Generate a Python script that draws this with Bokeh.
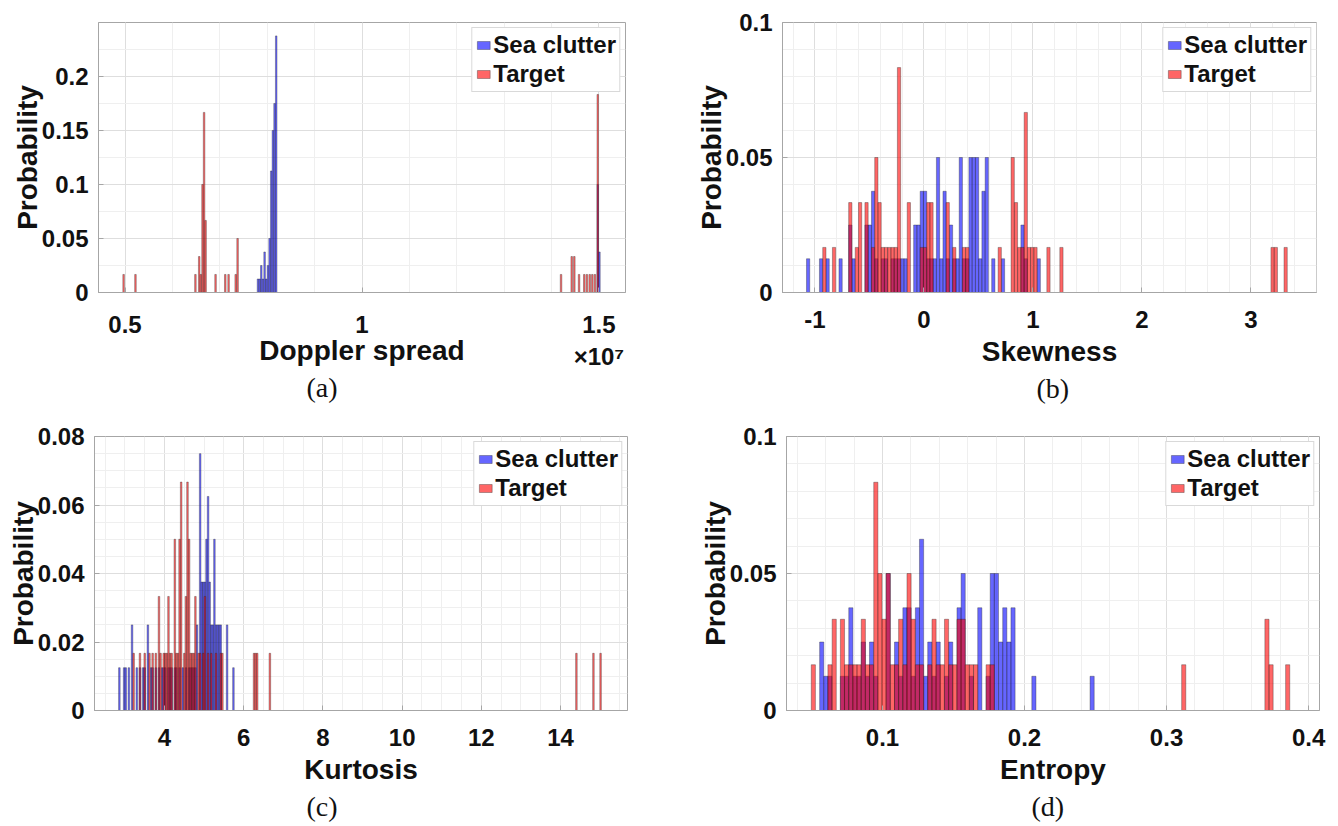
from bokeh.plotting import figure
from bokeh.layouts import column, row
from bokeh.models import Range1d, SingleIntervalTicker, CustomJSTickFormatter, Title
from bokeh.embed import file_html
from bokeh.resources import INLINE

# ---------------- data (probabilities) ----------------
# (a) Doppler spread
dop_sea_x = [0.7805e7, 0.7840e7, 0.7875e7, 0.7910e7, 0.7945e7, 0.7980e7, 0.8015e7,
             0.8050e7, 0.8085e7, 0.8120e7, 0.8155e7, 0.8190e7, 1.4975e7, 1.5010e7]
dop_sea_p = [0.0125, 0.0125, 0.025, 0.0125, 0.0375, 0.0125, 0.025,
             0.05, 0.1125, 0.15, 0.175, 0.2375, 0.1, 0.0375]
dop_tgt_x = [0.4970e7, 0.5220e7, 0.6485e7, 0.6565e7, 0.6600e7, 0.6635e7, 0.6668e7,
             0.6700e7, 0.6910e7, 0.7115e7, 0.7185e7, 0.7335e7, 0.7375e7, 1.4200e7,
             1.4425e7, 1.4480e7, 1.4580e7, 1.4690e7, 1.4745e7, 1.4805e7, 1.4860e7,
             1.4915e7, 1.4975e7]
dop_tgt_p = [0.0167, 0.0167, 0.0167, 0.0333, 0.0167, 0.1, 0.1667,
             0.0667, 0.0167, 0.0167, 0.0167, 0.0167, 0.05, 0.0167,
             0.0333, 0.0333, 0.0167, 0.0167, 0.0167, 0.0167, 0.0167,
             0.0167, 0.1833]
dop_exponent = "\u00d710\u2077"

# (b) Skewness
skew_sea_x = [-1.063, -0.944, -0.884, -0.765, -0.676, -0.646, -0.527, -0.497, -0.467,
              -0.437, -0.378, -0.348, -0.288, -0.258, -0.229, -0.199, -0.169, -0.080,
              -0.050, -0.020, 0.010, 0.040, 0.069, 0.099, 0.129, 0.159, 0.189, 0.218,
              0.248, 0.278, 0.308, 0.338, 0.367, 0.397, 0.427, 0.457, 0.487, 0.516,
              0.546, 0.576, 0.636, 0.725, 0.904, 0.934, 1.053]
skew_sea_p = [0.0125, 0.0125, 0.0125, 0.0125, 0.025, 0.0125, 0.025, 0.025, 0.0375,
              0.0125, 0.0125, 0.0125, 0.0125, 0.0125, 0.0125, 0.0125, 0.0125, 0.025,
              0.025, 0.0375, 0.0375, 0.0125, 0.0125, 0.0125, 0.05, 0.0125, 0.0375, 0.0125,
              0.025, 0.0125, 0.0125, 0.05, 0.0125, 0.0125, 0.05, 0.05, 0.05, 0.0125,
              0.0375, 0.05, 0.0125, 0.0125, 0.025, 0.0125, 0.0125]
skew_tgt_x = [-0.914, -0.825, -0.676, -0.616, -0.586, -0.527, -0.467, -0.437, -0.407,
              -0.378, -0.348, -0.318, -0.288, -0.258, -0.229, -0.139, -0.020, 0.010,
              0.040, 0.069, 0.218, 0.278, 0.367, 0.397, 0.695, 0.814, 0.844, 0.874,
              0.904, 0.934, 0.963, 0.993, 1.023, 1.142, 1.261, 3.198, 3.228, 3.318]
skew_tgt_p = [0.0167, 0.0167, 0.0333, 0.0167, 0.0333, 0.0333, 0.0167, 0.05, 0.0333,
              0.0167, 0.0167, 0.0167, 0.0167, 0.0167, 0.0833, 0.0333, 0.0167, 0.0167,
              0.0333, 0.0333, 0.0333, 0.0167, 0.0167, 0.0167, 0.0167, 0.05, 0.0333, 0.0167,
              0.0167, 0.0667, 0.0167, 0.0167, 0.0167, 0.0167, 0.0167, 0.0167, 0.0167, 0.0167]

# (c) Kurtosis
kurt_sea_x = [2.86, 2.98, 3.02, 3.10, 3.18, 3.30, 3.38, 3.46, 3.50, 3.58,
              3.66, 3.70, 3.78, 3.86, 3.94, 3.98, 4.02, 4.10, 4.14, 4.18,
              4.26, 4.30, 4.38, 4.46, 4.54, 4.62, 4.66, 4.70, 4.74, 4.78,
              4.82, 4.90, 4.94, 4.98, 5.02, 5.06, 5.10, 5.14, 5.18, 5.22,
              5.26, 5.30, 5.34, 5.38, 5.42, 5.58, 5.74]
kurt_sea_p = [0.0125, 0.0125, 0.0125, 0.0125, 0.025, 0.0125, 0.0125, 0.0125, 0.0125, 0.025,
              0.0125, 0.0125, 0.0125, 0.0125, 0.0125, 0.0125, 0.0125, 0.0125, 0.0125, 0.0125,
              0.0125, 0.0125, 0.0125, 0.0125, 0.0125, 0.0125, 0.0125, 0.0125, 0.0125, 0.0125,
              0.025, 0.075, 0.0375, 0.0375, 0.0375, 0.05, 0.0625, 0.0375, 0.025, 0.025,
              0.05, 0.025, 0.025, 0.025, 0.025, 0.025, 0.0125]
kurt_tgt_x = [3.22, 3.38, 3.50, 3.62, 3.70, 3.78, 3.86, 3.90, 3.98, 4.02,
              4.06, 4.10, 4.14, 4.18, 4.26, 4.30, 4.34, 4.38, 4.42, 4.50,
              4.54, 4.58, 4.62, 4.66, 4.70, 4.74, 4.78, 4.86, 4.90, 4.98,
              5.02, 5.10, 5.18, 5.30, 5.42, 5.46, 6.26, 6.30, 6.34, 6.66,
              14.40, 14.83, 15.01]
kurt_tgt_p = [0.0167, 0.0167, 0.0167, 0.0167, 0.0167, 0.0167, 0.0333, 0.0167, 0.0167, 0.0167,
              0.0167, 0.0333, 0.0167, 0.0167, 0.05, 0.0167, 0.0167, 0.05, 0.0667, 0.0167,
              0.0333, 0.0667, 0.05, 0.0167, 0.0167, 0.0167, 0.0333, 0.0167, 0.0167, 0.0167,
              0.0333, 0.0167, 0.0167, 0.0167, 0.0167, 0.0167, 0.0167, 0.0167, 0.0167, 0.0167,
              0.0167, 0.0167, 0.0167]

# (d) Entropy
ent_sea_x = [0.0572, 0.0601, 0.0630, 0.0718, 0.0747, 0.0777, 0.0806, 0.0835, 0.0865,
             0.0894, 0.0923, 0.0953, 0.1040, 0.1099, 0.1128, 0.1158, 0.1187, 0.1216,
             0.1246, 0.1275, 0.1304, 0.1333, 0.1363, 0.1392, 0.1451, 0.1480, 0.1539,
             0.1568, 0.1626, 0.1685, 0.1744, 0.1773, 0.1802, 0.1832, 0.1861, 0.1890,
             0.1919, 0.2066, 0.2476]
ent_sea_p = [0.025, 0.0125, 0.0125, 0.0125, 0.0125, 0.0375, 0.0125, 0.0125, 0.025,
             0.0125, 0.025, 0.0125, 0.05, 0.025, 0.0125, 0.0375, 0.0375, 0.0125,
             0.0375, 0.0625, 0.0125, 0.025, 0.0125, 0.025, 0.0125, 0.025, 0.0375,
             0.05, 0.0125, 0.0375, 0.0125, 0.05, 0.05, 0.025, 0.0375, 0.025,
             0.0375, 0.0125, 0.0125]
ent_tgt_x = [0.0513, 0.0630, 0.0660, 0.0718, 0.0747, 0.0777, 0.0806, 0.0835, 0.0865,
             0.0894, 0.0923, 0.0953, 0.0982, 0.1011, 0.1040, 0.1070, 0.1099, 0.1128,
             0.1158, 0.1187, 0.1216, 0.1246, 0.1275, 0.1333, 0.1363, 0.1392, 0.1421,
             0.1451, 0.1480, 0.1509, 0.1539, 0.1568, 0.1597, 0.1626, 0.1656, 0.1744,
             0.1773, 0.3121, 0.3707, 0.3736, 0.3853]
ent_tgt_p = [0.0167, 0.0167, 0.0333, 0.0333, 0.0167, 0.0167, 0.0167, 0.0167, 0.0333,
             0.0167, 0.0167, 0.0833, 0.05, 0.0333, 0.05, 0.0167, 0.0167, 0.0333,
             0.0167, 0.05, 0.0333, 0.0167, 0.0167, 0.0167, 0.0333, 0.0167, 0.0167,
             0.0333, 0.0167, 0.0167, 0.0333, 0.0333, 0.0167, 0.0167, 0.0167, 0.0167,
             0.0167, 0.0167, 0.0333, 0.0167, 0.0167]

# ---------------- styling ----------------
SANS = "Liberation Sans"
SERIF = "Liberation Serif"
FRAME = "#a6a6a6"
GRID = "#dedede"
MINOR = "#efefef"
PLAIN = "return Number(tick.toFixed(4)).toString();"


def make_panel(sea_x, sea_p, tgt_x, tgt_p, bin_w, xr, yr, xi, xm, yi, ym, xlabel,
               w, h, bl, br, bt, bb, cap, cap_off, xfmt=PLAIN, xlab_standoff=5):
    p = figure(width=w, height=h, x_range=Range1d(*xr), y_range=Range1d(*yr),
               output_backend="svg", toolbar_location=None,
               min_border_left=bl, min_border_right=br, min_border_top=bt,
               min_border_bottom=bb)
    p.vbar(x=sea_x, top=sea_p, width=bin_w, bottom=0, fill_color="#0000ff",
           fill_alpha=0.6, line_color="#262626", line_alpha=0.7, line_width=0.5,
           legend_label="Sea clutter")
    p.vbar(x=tgt_x, top=tgt_p, width=bin_w, bottom=0, fill_color="#ff0000",
           fill_alpha=0.6, line_color="#262626", line_alpha=0.7, line_width=0.5,
           legend_label="Target")

    xt = SingleIntervalTicker(interval=xi, num_minor_ticks=xm)
    yt = SingleIntervalTicker(interval=yi, num_minor_ticks=ym)
    p.xaxis.ticker = xt
    p.yaxis.ticker = yt
    p.xgrid.ticker = xt
    p.ygrid.ticker = yt
    p.xaxis.formatter = CustomJSTickFormatter(code=xfmt)
    p.yaxis.formatter = CustomJSTickFormatter(code=PLAIN)

    for g in (p.xgrid[0], p.ygrid[0]):
        g.grid_line_color = GRID
        g.minor_grid_line_color = MINOR

    for ax in (p.xaxis[0], p.yaxis[0]):
        ax.major_label_text_font = SANS
        ax.major_label_text_font_size = "24px"
        ax.major_label_text_font_style = "bold"
        ax.major_label_text_color = "#111111"
        ax.axis_label_text_font = SANS
        ax.axis_label_text_font_size = "28px"
        ax.axis_label_text_font_style = "bold"
        ax.axis_label_text_color = "#111111"
        ax.major_tick_in = 5
        ax.major_tick_out = 0
        ax.minor_tick_line_color = None
        ax.major_tick_line_color = FRAME
        ax.axis_line_color = FRAME
    p.xaxis.axis_label = xlabel
    p.yaxis.axis_label = "Probability"
    p.xaxis.major_label_standoff = 14
    p.xaxis.axis_label_standoff = xlab_standoff
    p.yaxis.major_label_standoff = 6
    p.yaxis.axis_label_standoff = -4
    p.outline_line_color = FRAME
    p.outline_line_width = 1

    lg = p.legend[0]
    lg.location = "top_right"
    lg.margin = 5
    lg.padding = 3
    lg.spacing = 1
    lg.glyph_width = 16
    lg.glyph_height = 10
    lg.label_standoff = 2
    lg.label_text_font = SANS
    lg.label_text_font_style = "bold"
    lg.label_text_font_size = "24px"
    lg.label_text_color = "#111111"
    lg.border_line_color = "#b4b4b4"
    lg.background_fill_alpha = 1.0

    p.add_layout(Title(text=cap, align="left", offset=cap_off, text_font=SERIF,
                       text_font_size="28px", text_font_style="normal",
                       text_color="#111111", standoff=2), "below")
    return p


dop_fmt = ("var s = Number((tick/1e7).toFixed(3)).toString();"
           "if (index == ticks.length - 1) { return s + '\\n' + '%s'; }"
           "return s;" % dop_exponent)

# top row: frames y 22..292 ; bottom row: frames y 434..710
pa = make_panel(dop_sea_x, dop_sea_p, dop_tgt_x, dop_tgt_p, 0.0033e7,
                (0.444e7, 1.556e7), (0, 0.2499), 0.5e7, 5, 0.05, 2, "Doppler spread",
                660, 414, 98, 35, 22, 122, "(a)", 208, xfmt=dop_fmt, xlab_standoff=-38)
pb = make_panel(skew_sea_x, skew_sea_p, skew_tgt_x, skew_tgt_p, 0.0298,
                (-1.298, 3.601), (0, 0.1), 1, 5, 0.05, 5, "Skewness",
                678, 414, 122, 22, 22, 122, "(b)", 254)
pc = make_panel(kurt_sea_x, kurt_sea_p, kurt_tgt_x, kurt_tgt_p, 0.04,
                (2.232, 15.69), (0, 0.08), 2, 4, 0.02, 4, "Kurtosis",
                660, 412, 94, 33, 20, 116, "(c)", 212)
pd = make_panel(ent_sea_x, ent_sea_p, ent_tgt_x, ent_tgt_p, 0.00293,
                (0.0324, 0.4077), (0, 0.1), 0.1, 5, 0.05, 5, "Entropy",
                678, 412, 126, 19, 22, 115, "(d)", 245)

layout = column(row(pa, pb), row(pc, pd))
open("out.html", "w").write(file_html(layout, INLINE))
